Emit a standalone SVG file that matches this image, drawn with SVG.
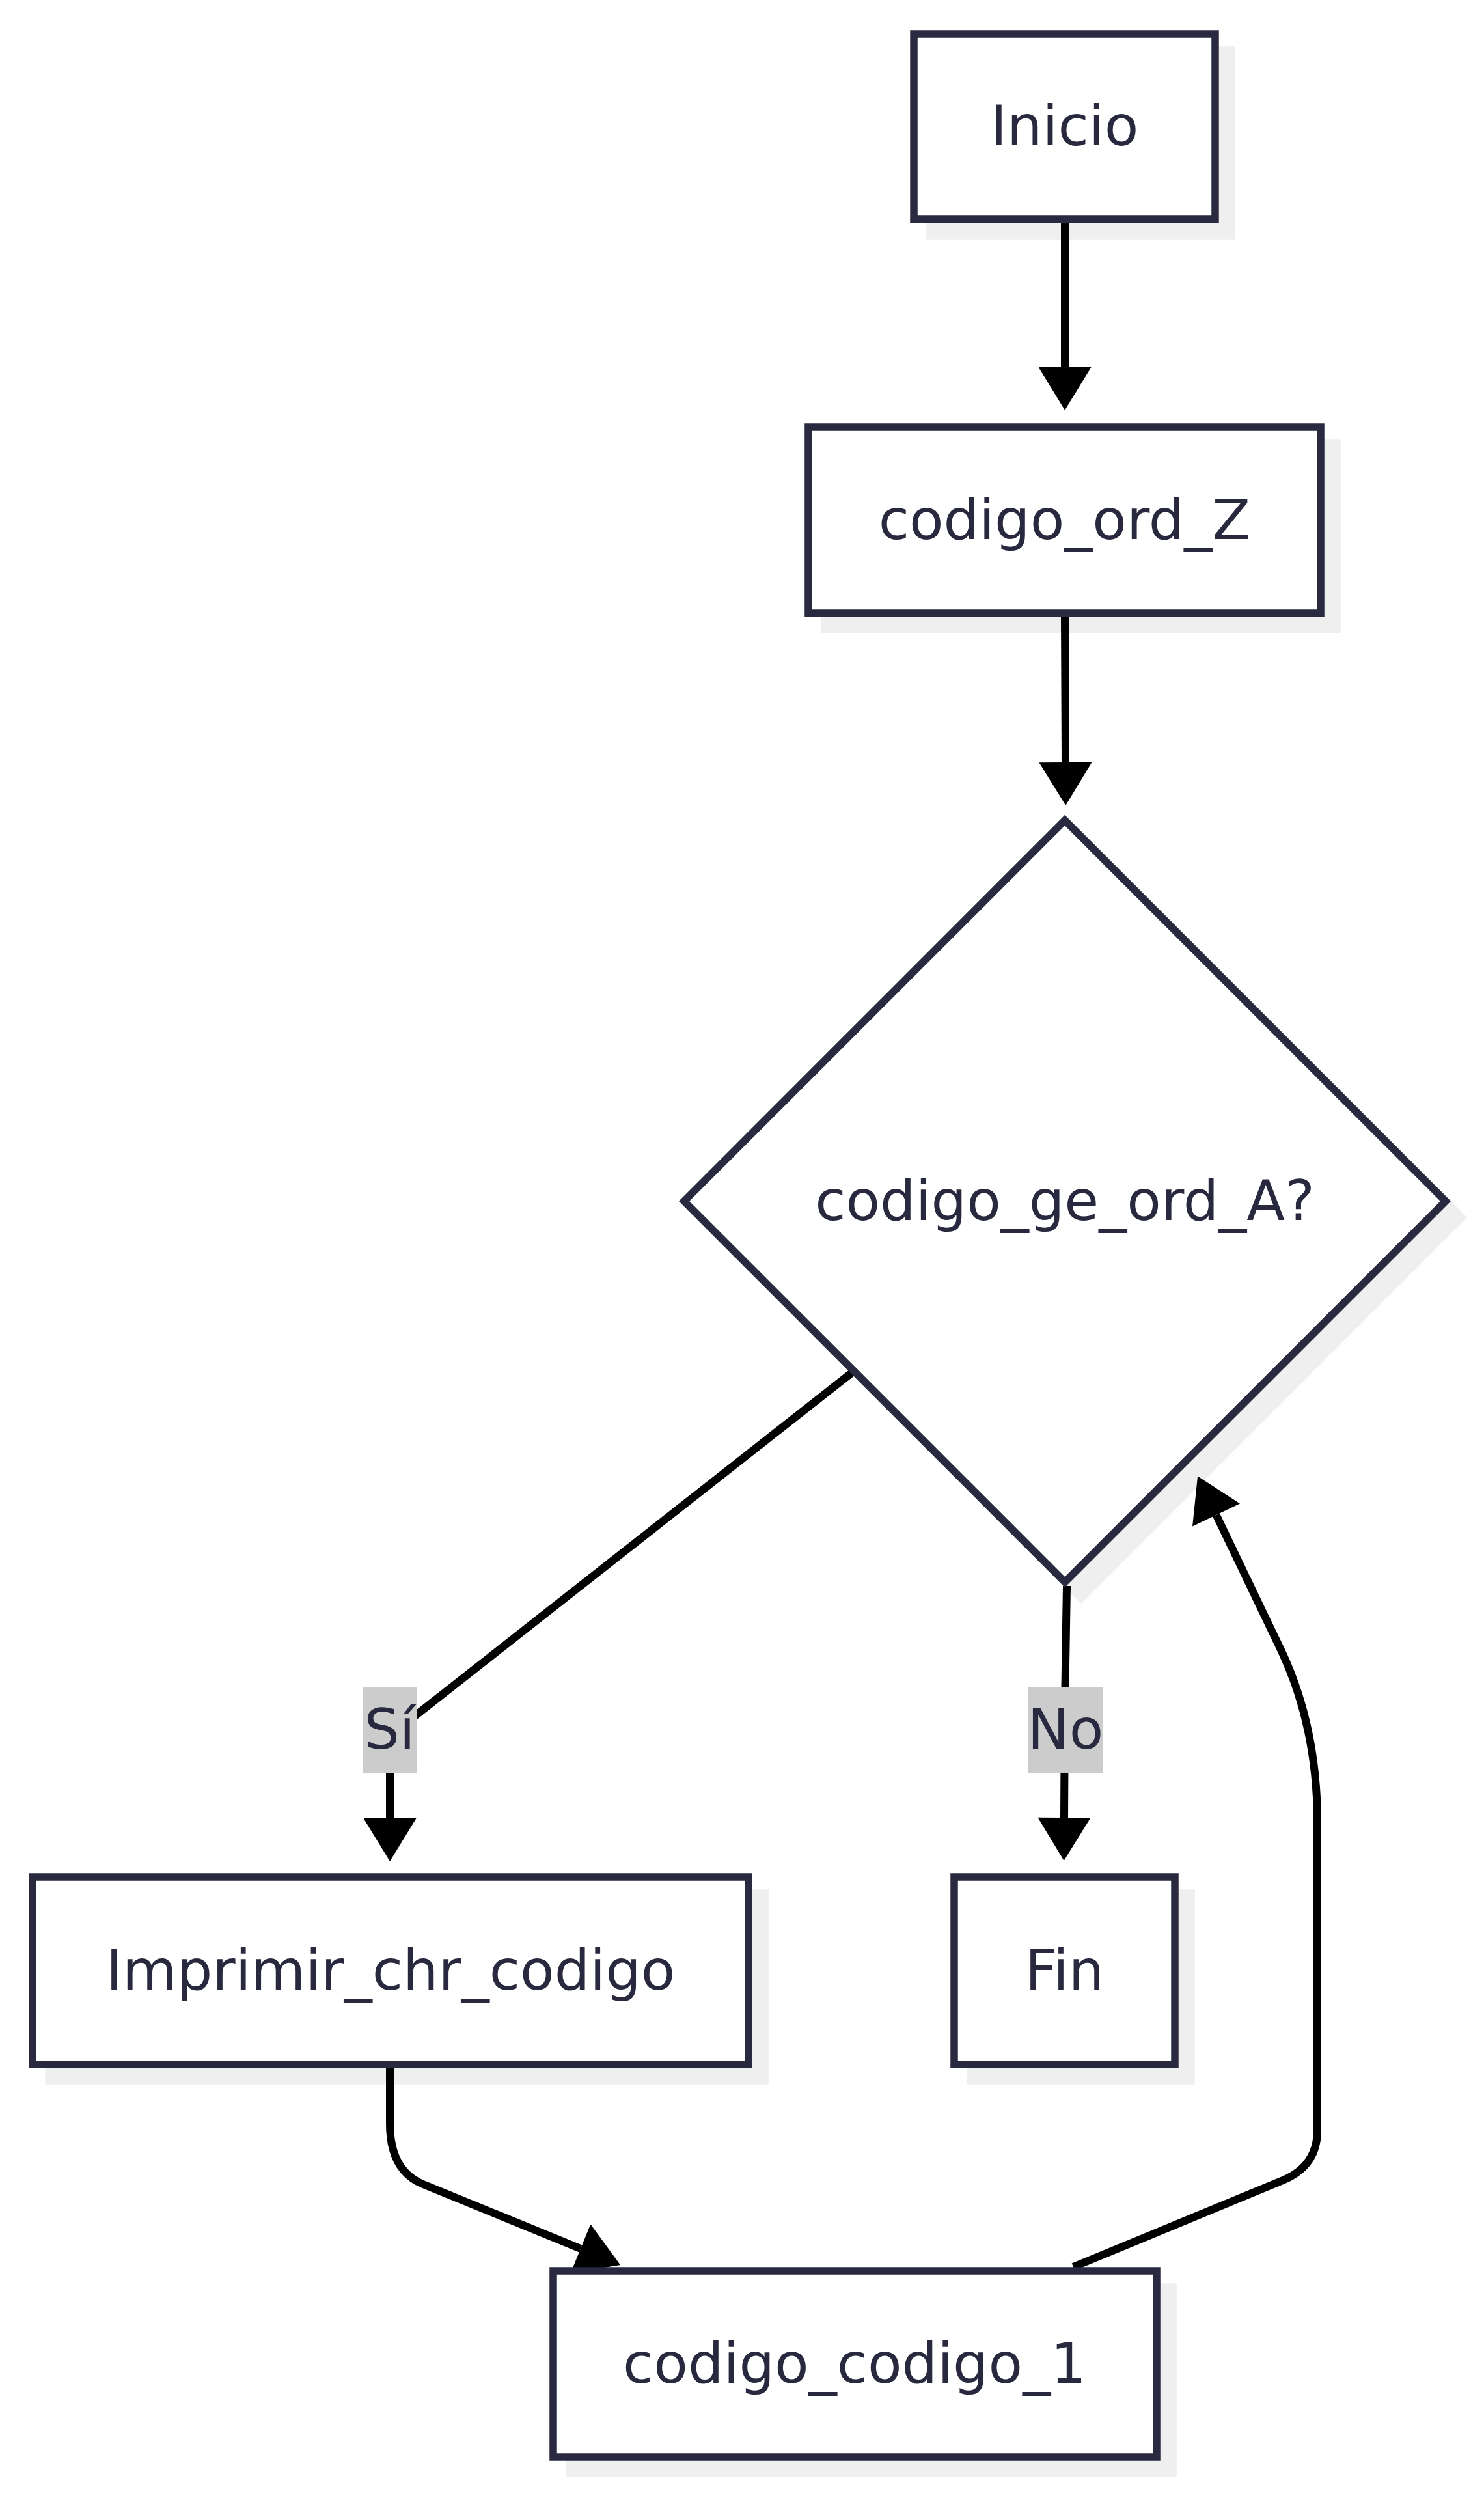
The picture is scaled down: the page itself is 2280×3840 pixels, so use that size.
<svg xmlns="http://www.w3.org/2000/svg" width="2280" height="3840" viewBox="0 0 2280 3840">
<style>
.shadow{fill:#efefef;stroke:#efefef;stroke-width:11.5}
.node{fill:#ffffff;stroke:#29293f;stroke-width:11.5}
.lbl{font-family:"DejaVu Sans","Liberation Sans",sans-serif;font-size:86px;fill:#28283e;text-anchor:middle}
.edge{fill:none;stroke:#000000;stroke-width:12}
.elbg{fill:#cccccc}
</style>
<defs>
<marker id="arrow" markerUnits="userSpaceOnUse" markerWidth="67" markerHeight="81" viewBox="0 0 67 81" refX="1" refY="40.5" orient="auto">
<path d="M1,0 L67,40.5 L1,81 z" fill="#000000"/>
</marker>
</defs>
<rect width="2280" height="3840" fill="#ffffff"/>
<g id="shadows" transform="translate(25,25)">
<rect class="shadow" x="1404" y="52" width="463" height="285"/>
<rect class="shadow" x="1242" y="656" width="787" height="286"/>
<polygon class="shadow" points="1636,1260 2221,1845 1636,2430 1051,1845"/>
<rect class="shadow" x="50" y="2883" width="1100" height="288"/>
<rect class="shadow" x="1466" y="2883" width="339" height="288"/>
<rect class="shadow" x="850" y="3488" width="927" height="286"/>
</g>
<g id="connectors">
<path class="edge" d="M1636,342 L1636,564" marker-end="url(#arrow)"/>
<path class="edge" d="M1636,948 L1637,1171" marker-end="url(#arrow)"/>
<path class="edge" d="M1312,2106 L599,2666 L599,2793" marker-end="url(#arrow)"/>
<path class="edge" d="M1639,2436 L1636,2620 L1635,2792" marker-end="url(#arrow)"/>
<path class="edge" d="M599,3176 L599,3262 Q599,3334 650,3355 L892,3454" marker-end="url(#arrow)"/>
<path class="edge" d="M1649,3482 L1971,3349 Q2024,3327 2024,3272 L2024,2800 Q2024,2650 1966,2530 L1868.6,2327" marker-end="url(#arrow)"/>
</g>
<g id="edge-labels">
<g id="label-si">
<rect class="elbg" x="557" y="2591" width="83" height="133"/>
<text class="lbl" x="598.5" y="2686">Sí</text>
</g>
<g id="label-no">
<rect class="elbg" x="1580" y="2591" width="114" height="133"/>
<text class="lbl" x="1637" y="2686">No</text>
</g>
</g>
<g id="node-inicio">
<rect class="node" x="1404" y="52" width="463" height="285"/>
<text class="lbl" x="1635.5" y="223">Inicio</text>
</g>
<g id="node-codigo-ord-z">
<rect class="node" x="1242" y="656" width="787" height="286"/>
<text class="lbl" x="1635.5" y="828">codigo_ord_Z</text>
</g>
<g id="node-decision">
<polygon class="node" points="1636,1260 2221,1845 1636,2430 1051,1845"/>
<text class="lbl" x="1636" y="1874">codigo_ge_ord_A?</text>
</g>
<g id="node-imprimir">
<rect class="node" x="50" y="2883" width="1100" height="288"/>
<text class="lbl" x="600" y="3056">Imprimir_chr_codigo</text>
</g>
<g id="node-fin">
<rect class="node" x="1466" y="2883" width="339" height="288"/>
<text class="lbl" x="1635.5" y="3056">Fin</text>
</g>
<g id="node-codigo-codigo-1">
<rect class="node" x="850" y="3488" width="927" height="286"/>
<text class="lbl" x="1313" y="3660">codigo_codigo_1</text>
</g>
</svg>
